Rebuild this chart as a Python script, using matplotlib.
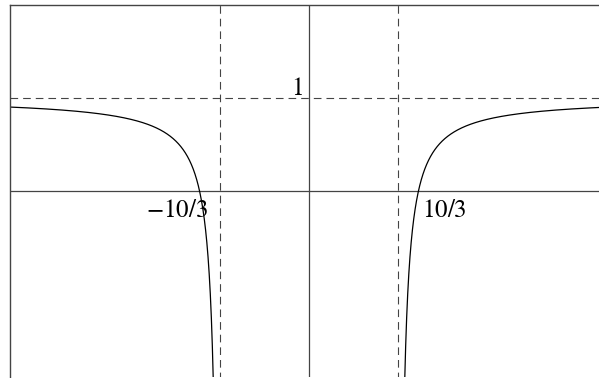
import numpy as np
import matplotlib
matplotlib.use("Agg")
from matplotlib import pyplot as plt

# rational function y = (|x| - zero) / (|x| - pole), mirrored about the y axis
pole_x = 10 / 3
zero_x = 4.1
level_y = 1.0
x_range = (-11.2, 11.2)
y_range = (-2.0, 2.0)
tick_labels = [r"$-10/3$", r"$10/3$", r"$1$"]

plt.rcParams['lines.scale_dashes'] = False
plt.rcParams['font.family'] = ['Liberation Serif', 'DejaVu Serif']
plt.rcParams['mathtext.fontset'] = 'stix'

fig = plt.figure(figsize=(5.99, 3.78), dpi=100)
ax = fig.add_axes([10 / 599, 1 / 378, 598 / 599, 372 / 378])

axis_col = '#444444'
dash = (2.0, (5.5, 3.6))

# axes through the origin
ax.axhline(0, color=axis_col, lw=0.9)
ax.axvline(0, color=axis_col, lw=0.9)

# asymptotes
ax.axhline(level_y, color=axis_col, lw=0.8, linestyle=(0, (5.5, 3.6)))
ax.axvline(-pole_x, color=axis_col, lw=0.8, linestyle=dash)
ax.axvline(pole_x, color=axis_col, lw=0.8, linestyle=dash)

# the two branches, one each side of the y axis
for sgn in (-1, 1):
    xs = np.linspace(pole_x + 1e-4, x_range[1], 4000)
    ys = (xs - zero_x) / (xs - pole_x)
    ax.plot(sgn * xs, ys, color='black', lw=0.9)

ax.text(-3.78, -0.28, tick_labels[0], ha='right', va='baseline', fontsize=18)
ax.text(4.23, -0.28, tick_labels[1], ha='left', va='baseline', fontsize=18)
ax.text(-0.22, 1.03, tick_labels[2], ha='right', va='baseline', fontsize=18)

ax.set_xlim(*x_range)
ax.set_ylim(*y_range)
ax.set_xticks([])
ax.set_yticks([])
for side in ('right', 'bottom'):
    ax.spines[side].set_visible(False)
for side in ('left', 'top'):
    ax.spines[side].set_color(axis_col)
    ax.spines[side].set_linewidth(1.0)

fig.savefig("out.png", dpi=100)
